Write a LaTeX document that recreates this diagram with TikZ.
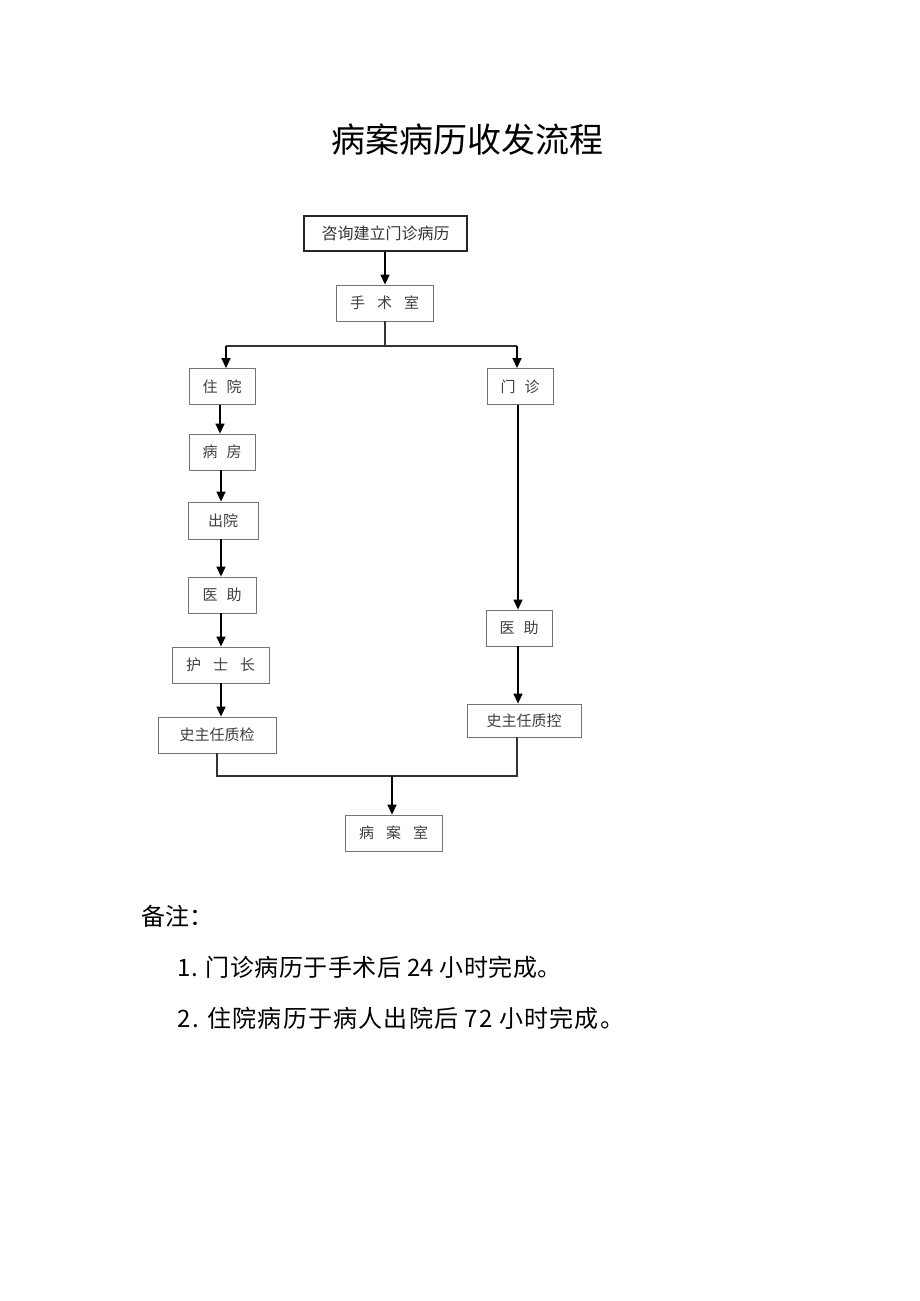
\documentclass[tikz,border=0pt]{standalone}
\usepackage{fontspec}
\setmainfont{Noto Sans CJK SC}
\newfontfamily\cjk{Noto Sans CJK SC}
\usetikzlibrary{arrows.meta}
\begin{document}
\begin{tikzpicture}[x=1pt,y=-1pt,
  boxa/.style={draw=black!85,line width=1.2pt,minimum width=#1,minimum height=35pt,inner sep=0pt,font=\cjk\fontsize{16}{16}\selectfont,text=black!80},
  boxb/.style={draw=black!55,line width=0.8pt,minimum width=#1,minimum height=36pt,inner sep=0pt,font=\cjk\fontsize{15}{15}\selectfont,text=black!75},
  arr/.style={draw=black,line width=1.4pt,-{Triangle[length=10pt,width=9pt]}},
  ln/.style={draw=black!80,line width=1.2pt}]
\useasboundingbox (0,0) rectangle (920,1301);
\fill[white] (0,0) rectangle (920,1301);
\node[font=\cjk\fontsize{34}{34}\selectfont] (title) at (467,140) {病案病历收发流程};
\node[boxa=163pt] (b1) at (385.5,233.5) {咨询建立门诊病历};
\node[boxb=97pt] (b2) at (384.5,303) {手\hspace{0.8em}术\hspace{0.8em}室};
\node[boxb=66pt] (zy) at (222,386.5) {住\hspace{0.6em}院};
\node[boxb=66pt] (mz) at (520,386.5) {门\hspace{0.6em}诊};
\node[boxb=66pt] (bf) at (222,452) {病\hspace{0.6em}房};
\node[boxb=70pt,minimum height=37pt] (cy) at (223,520.5) {出院};
\node[boxb=68pt] (yz1) at (222,595) {医\hspace{0.6em}助};
\node[boxb=97pt] (hs) at (220.5,665) {护\hspace{0.8em}士\hspace{0.8em}长};
\node[boxb=118pt] (zj) at (217,735) {史主任质检};
\node[boxb=66pt] (yz2) at (519,628) {医\hspace{0.6em}助};
\node[boxb=114pt,minimum height=33pt] (zk) at (524,720.5) {史主任质控};
\node[boxb=97pt] (bas) at (393.5,833) {病\hspace{0.8em}案\hspace{0.8em}室};
\coordinate (split) at (385,346);
\coordinate (join) at (392,776);
\draw[arr] (b1.south -| 385,0) -- (b2.north -| 385,0);
\draw[ln] (b2.south -| 385,0) -- (split);
\draw[ln] (226,346) -- (517,346);
\draw[arr] (226,346) -- (zy.north -| 226,0);
\draw[arr] (517,346) -- (mz.north -| 517,0);
\draw[arr] (zy.south -| 220,0) -- (bf.north -| 220,0);
\draw[arr] (bf.south -| 221,0) -- (cy.north -| 221,0);
\draw[arr] (cy.south -| 221,0) -- (yz1.north -| 221,0);
\draw[arr] (yz1.south -| 221,0) -- (hs.north -| 221,0);
\draw[arr] (hs.south -| 221,0) -- (zj.north -| 221,0);
\draw[arr] (mz.south -| 518,0) -- (yz2.north -| 518,0);
\draw[arr] (yz2.south -| 518,0) -- (zk.north -| 518,0);
\draw[ln] (zj.south -| 217,0) -- (217,776) -- (517,776) -- (zk.south -| 517,0);
\draw[arr] (join) -- (bas.north -| 392,0);
\node[anchor=west,font=\cjk\fontsize{24}{24}\selectfont] (note) at (138,916) {备注：};
\node[anchor=west,font=\cjk\fontsize{24}{24}\selectfont\addfontfeature{LetterSpace=2}] (n1) at (174,967) {1. 门诊病历于手术后 24 小时完成。};
\node[anchor=west,font=\cjk\fontsize{24}{24}\selectfont\addfontfeature{LetterSpace=5}] (n2) at (174,1018) {2. 住院病历于病人出院后 72 小时完成。};
\end{tikzpicture}
\end{document}
